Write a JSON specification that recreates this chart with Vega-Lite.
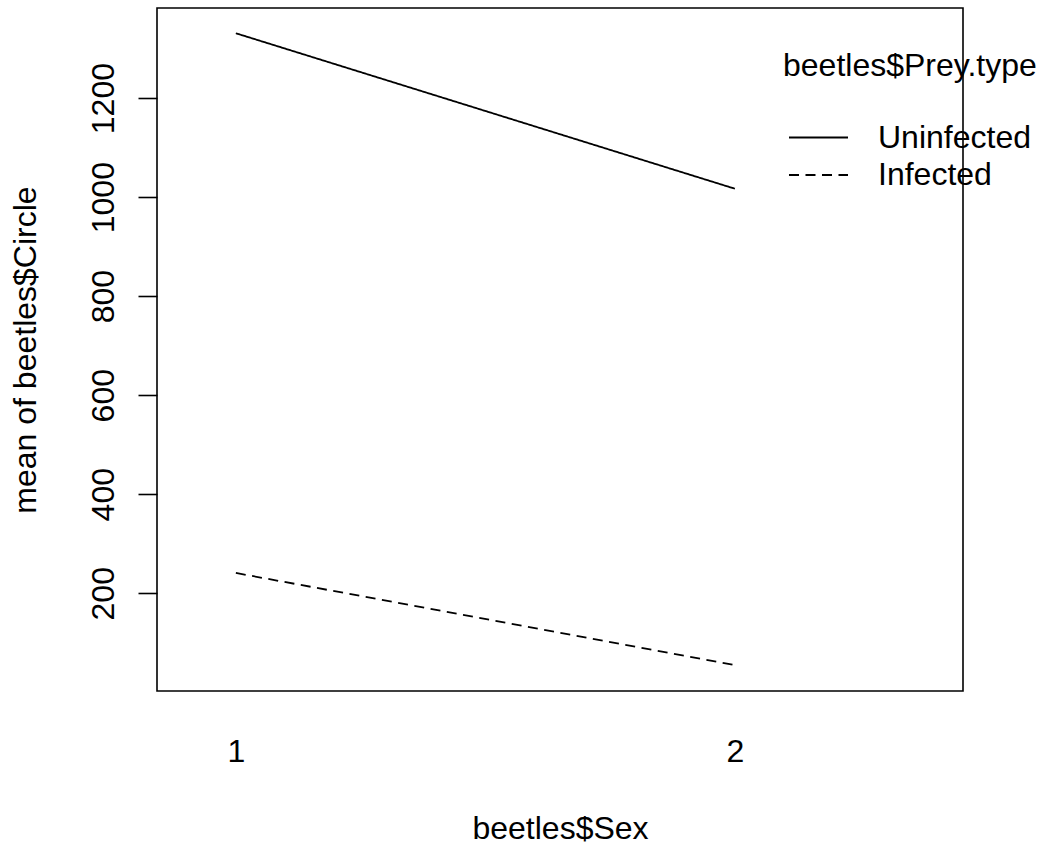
{
  "$schema": "https://vega.github.io/schema/vega-lite/v6.json",
  "width": 806,
  "height": 683,
  "autosize": {"type": "none"},
  "padding": {"left": 157, "top": 8, "right": 75, "bottom": 159},
  "background": "white",
  "config": {
    "view": {"stroke": "black", "strokeWidth": 1.6},
    "font": "Liberation Sans",
    "text": {"font": "Liberation Sans"}
  },
  "data": {
    "values": [
      {"sex": 1, "prey": "Uninfected", "circle": 1331},
      {"sex": 2, "prey": "Uninfected", "circle": 1017},
      {"sex": 1, "prey": "Infected", "circle": 241},
      {"sex": 2, "prey": "Infected", "circle": 55}
    ]
  },
  "mark": {"type": "line", "color": "black", "strokeWidth": 1.8},
  "encoding": {
    "x": {
      "field": "sex",
      "type": "quantitative",
      "scale": {"domain": [0.842, 2.457], "nice": false, "zero": false},
      "axis": {
        "values": [1, 2],
        "format": "d",
        "title": "beetles$Sex",
        "grid": false,
        "domain": false,
        "ticks": false,
        "tickSize": 0,
        "labelFont": "Liberation Sans",
        "labelFontSize": 32,
        "labelColor": "black",
        "labelBaseline": "alphabetic",
        "labelPadding": 70,
        "titleFont": "Liberation Sans",
        "titleFontSize": 32,
        "titleFontWeight": "normal",
        "titleColor": "black",
        "titleBaseline": "alphabetic",
        "titleAnchor": "middle",
        "titleX": 403,
        "titleY": 147
      }
    },
    "y": {
      "field": "circle",
      "type": "quantitative",
      "scale": {"domain": [2.6, 1382], "nice": false, "zero": false},
      "axis": {
        "values": [200, 400, 600, 800, 1000, 1200],
        "format": "d",
        "title": "mean of beetles$Circle",
        "grid": false,
        "domain": false,
        "ticks": true,
        "tickSize": 19,
        "tickWidth": 1.6,
        "tickColor": "black",
        "labelFont": "Liberation Sans",
        "labelFontSize": 32,
        "labelColor": "black",
        "labelAngle": 270,
        "labelAlign": "center",
        "labelBaseline": "alphabetic",
        "labelPadding": 25,
        "titleFont": "Liberation Sans",
        "titleFontSize": 32,
        "titleFontWeight": "normal",
        "titleColor": "black",
        "titleAngle": 270,
        "titleAlign": "center",
        "titleBaseline": "alphabetic",
        "titleX": -122,
        "titleY": 341.5
      }
    },
    "strokeDash": {
      "field": "prey",
      "type": "nominal",
      "scale": {"domain": ["Uninfected", "Infected"], "range": [[1, 0], [10, 6.5]]},
      "legend": {
        "title": "beetles$Prey.type",
        "orient": "none",
        "legendX": 626,
        "legendY": 43,
        "padding": 0,
        "symbolType": "M-1.844,0H1.844",
        "symbolSize": 1024,
        "symbolStrokeWidth": 1.8,
        "symbolStrokeColor": "black",
        "symbolFillColor": "transparent",
        "symbolOffset": 18.5,
        "labelOffset": 42.5,
        "labelFont": "Liberation Sans",
        "labelFontSize": 32,
        "labelColor": "black",
        "labelBaseline": "middle",
        "titleFont": "Liberation Sans",
        "titleFontSize": 32,
        "titleFontWeight": "normal",
        "titleColor": "black",
        "titlePadding": 37.5,
        "rowPadding": 4.5,
        "labelLimit": 400,
        "titleLimit": 400
      }
    }
  }
}
